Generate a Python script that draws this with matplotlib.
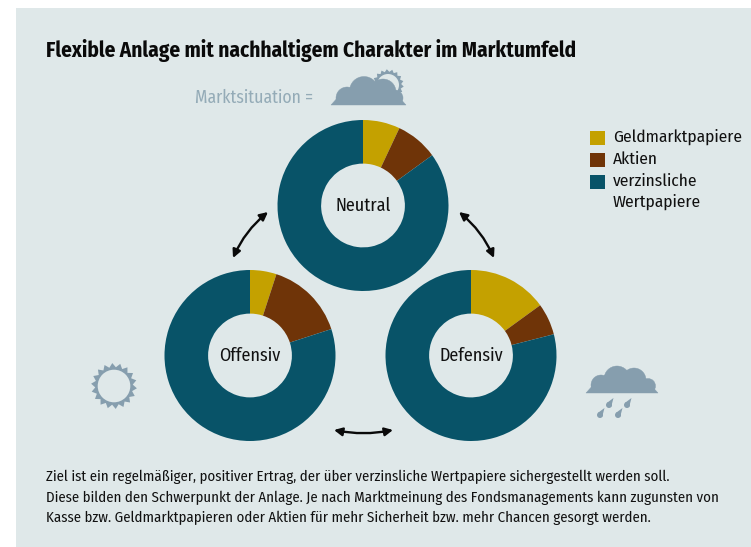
import math
import matplotlib
matplotlib.use("Agg")
import matplotlib.pyplot as plt
from matplotlib.patches import Circle, FancyArrowPatch, Polygon, Rectangle

W, H = 751, 547

TITLE = "Flexible Anlage mit nachhaltigem Charakter im Marktumfeld"
SUBTITLE = "Marktsituation ="
NOTE = ["Ziel ist ein regelmäßiger, positiver Ertrag, der über verzinsliche Wertpapiere sichergestellt werden soll.",
        "Diese bilden den Schwerpunkt der Anlage. Je nach Marktmeinung des Fondsmanagements kann zugunsten von",
        "Kasse bzw. Geldmarktpapieren oder Aktien für mehr Sicherheit bzw. mehr Chancen gesorgt werden."]

categories = ["Geldmarktpapiere", "Aktien", "verzinsliche\nWertpapiere"]
colors = ["#c4a100", "#6f3408", "#085368"]

scenarios = ["Neutral", "Offensiv", "Defensiv"]
neutral = [7, 8, 85]
offensiv = [5, 15, 80]
defensiv = [15, 6, 79]

BG = "#dfe8e9"
ICON = "#869eae"
FONT = ["Fira Sans Condensed", "Lato", "DejaVu Sans"]


def add_donut(fig, cx, cy, values, label):
    r = 85.5
    ax = fig.add_axes([(cx - r) / W, 1 - (cy + r) / H, 2 * r / W, 2 * r / H])
    ax.pie(values, colors=colors, startangle=90, counterclock=False, radius=1,
           wedgeprops=dict(width=0.51, linewidth=0))
    ax.set_xlim(-1, 1)
    ax.set_ylim(-1, 1)
    ax.axis("off")
    ax.text(0, 0, label, ha="center", va="center", fontsize=13, color="#111111", family=FONT)


def cloud(ax, x0, x1, base, lobes):
    ax.add_patch(Polygon([(x0, base), (x0 + 8, base - 9), (x1 - 8, base - 9), (x1, base)],
                         facecolor=ICON, edgecolor=ICON, lw=0.3))
    clip = Rectangle((x0, base - 60), x1 - x0, 60, transform=ax.transData)
    for cx, cy, rad in lobes:
        c = Circle((cx, cy), rad, facecolor=ICON, edgecolor=ICON, lw=0.3)
        ax.add_patch(c)
        c.set_clip_path(clip)


def sun(ax, x, y, r_in, r_out, r_hole):
    pts = []
    n = 18
    for i in range(n * 2):
        a = math.pi * i / n + 0.1
        rr = r_out if i % 2 == 0 else r_in
        pts.append((x + rr * math.cos(a), y + rr * math.sin(a)))
    ax.add_patch(Polygon(pts, color=ICON, lw=0))
    ax.add_patch(Circle((x, y), r_hole, color=BG, lw=0))


def drop(ax, x, y):
    ax.add_patch(Circle((x, y), 3, color=ICON, lw=0))
    ax.add_patch(Polygon([(x - 2.1, y - 2.1), (x + 4.5, y - 7), (x + 2.1, y + 2.1)], color=ICON, lw=0))


def arrow(ax, a, b, rad):
    ax.add_patch(FancyArrowPatch(a, b, arrowstyle="<|-|>", mutation_scale=12, lw=1.7, color="#0a0a0a",
                                 connectionstyle="arc3,rad=%f" % rad, shrinkA=0, shrinkB=0))


def main():
    fig = plt.figure(figsize=(W / 100, H / 100), dpi=100, facecolor="white")
    bg = fig.add_axes([0, 0, 1, 1])
    bg.set_xlim(0, W)
    bg.set_ylim(H, 0)
    bg.axis("off")
    bg.add_patch(Rectangle((16, 8), W - 16, H - 8, color=BG, lw=0))

    bg.text(46, 50, TITLE, fontsize=15.3, fontweight="bold", va="center", color="#0a0a0a", family=FONT)
    bg.text(195, 98, SUBTITLE, fontsize=12.7, va="center", color="#94abb7", family=FONT)

    # icons
    sun(bg, 388, 85, 13.2, 15.8, 11)
    cloud(bg, 331, 406, 105, [(347, 98, 11), (364, 91, 14.5), (383, 92, 13), (395, 98, 8), (372, 96, 10)])
    sun(bg, 114, 386, 18.8, 23, 16.3)
    cloud(bg, 586, 658, 393, [(601, 385, 10), (617, 379, 13), (634, 380, 12), (648, 386, 7.5), (610, 384, 10)])
    for dx, dy in [(609, 405), (627, 405), (600, 415), (618, 415)]:
        drop(bg, dx, dy)

    arrow(bg, (268, 212), (233, 258), 0.12)
    arrow(bg, (459, 212), (494, 258), -0.12)
    arrow(bg, (334, 430), (393, 430), 0.1)

    # legend
    y_pos = [138, 160, 182]
    for cat, col, yy in zip(categories, colors, y_pos):
        bg.add_patch(Rectangle((590, yy - 7), 15, 14, color=col, lw=0))
        bg.text(613, yy - 9, cat, fontsize=12.5, va="top", linespacing=1.35, color="#111111", family=FONT)

    for i, line in enumerate(NOTE):
        bg.text(46, 477 + i * 20.5, line, fontsize=10.7, va="center", color="#111111", family=FONT)

    add_donut(fig, 363, 205.5, neutral, scenarios[0])
    add_donut(fig, 250, 355.5, offensiv, scenarios[1])
    add_donut(fig, 471, 355.5, defensiv, scenarios[2])

    fig.savefig("out.png", dpi=100, facecolor="white")


if __name__ == "__main__":
    main()
